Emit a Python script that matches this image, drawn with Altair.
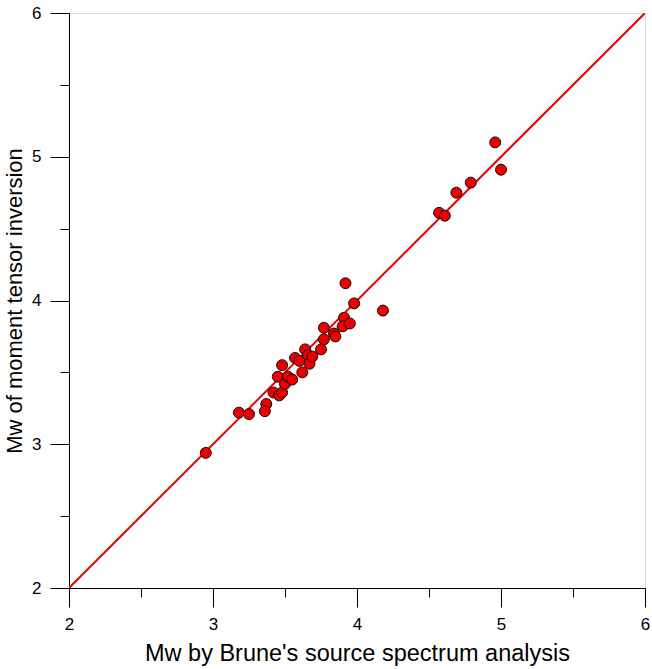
import altair as alt
import pandas as pd

brune_mw = [2.95, 3.18, 3.25, 3.37, 3.36, 3.42, 3.46, 3.48, 3.48, 3.45, 3.50, 3.52,
            3.55, 3.57, 3.60, 3.62, 3.64, 3.66, 3.67, 3.69, 3.75, 3.77, 3.77,
            3.84, 3.85, 3.91, 3.90, 3.95, 3.92, 3.98, 4.18,
            4.96, 5.00, 4.79, 4.69, 4.57, 4.61]
mt_mw = [2.94, 3.22, 3.21, 3.28, 3.23, 3.36, 3.34, 3.36, 3.55, 3.47, 3.42, 3.47,
         3.45, 3.60, 3.58, 3.50, 3.66, 3.62, 3.56, 3.61, 3.66, 3.81, 3.73,
         3.77, 3.75, 3.88, 3.82, 3.84, 4.12, 3.98, 3.93,
         5.10, 4.91, 4.82, 4.75, 4.61, 4.59]
line_x = [2, 6]
major_ticks = [2, 3, 4, 5, 6]
minor_ticks = [2.5, 3.5, 4.5, 5.5]

pts = pd.DataFrame({"x": brune_mw, "y": mt_mw})
diag = pd.DataFrame({"x": line_x, "y": line_x})

FONT = "Liberation Sans"
xs = alt.Scale(domain=[2, 6], nice=False, zero=False)
ys = alt.Scale(domain=[2, 6], nice=False, zero=False)

x_major = alt.Axis(values=major_ticks, tickSize=19, tickColor="black", domainColor="black",
                   labelFont=FONT, labelFontSize=17, labelColor="black", labelPadding=9,
                   labelFlush=False, labelOverlap=False,
                   grid=False, title="Mw by Brune's source spectrum analysis",
                   titleFont=FONT, titleFontSize=23.5, titleFontWeight="normal",
                   titleColor="black", titlePadding=9, orient="bottom")
y_major = alt.Axis(values=major_ticks, tickSize=19, tickColor="black", domainColor="black",
                   labelFont=FONT, labelFontSize=17, labelColor="black", labelPadding=9,
                   labelFlush=False, labelOverlap=False,
                   grid=False, title="Mw of moment tensor inversion",
                   titleFont=FONT, titleFontSize=22, titleFontWeight="normal",
                   titleColor="black", titlePadding=5, orient="left")
x_minor = alt.Axis(values=minor_ticks, tickSize=9, tickColor="black", labels=False,
                   domain=False, grid=False, title=None, orient="bottom")
y_minor = alt.Axis(values=minor_ticks, tickSize=9, tickColor="black", labels=False,
                   domain=False, grid=False, title=None, orient="left")

line = alt.Chart(diag).mark_line(color="#e80000", strokeWidth=2, clip=True).encode(
    x=alt.X("x:Q", scale=xs, axis=x_major),
    y=alt.Y("y:Q", scale=ys, axis=y_major),
)
minor = alt.Chart(diag).mark_point(opacity=0).encode(
    x=alt.X("x:Q", scale=xs, axis=x_minor),
    y=alt.Y("y:Q", scale=ys, axis=y_minor),
)
points = alt.Chart(pts).mark_point(filled=True, size=120, fill="#e80000", stroke="#200000",
                                   strokeWidth=1, opacity=1, shape="circle").encode(
    x=alt.X("x:Q", scale=xs, axis=None),
    y=alt.Y("y:Q", scale=ys, axis=None),
)

chart = alt.layer(line, minor, points).resolve_axis(x="independent", y="independent").properties(
    width=576, height=575,
    autosize=alt.AutoSizeParams(type="none"),
    padding={"left": 69, "top": 13, "right": 7, "bottom": 81},
).configure_view(stroke="black", strokeWidth=1).configure(background="white")

chart.save("out.html", embed_options={"renderer": "svg", "actions": False})
